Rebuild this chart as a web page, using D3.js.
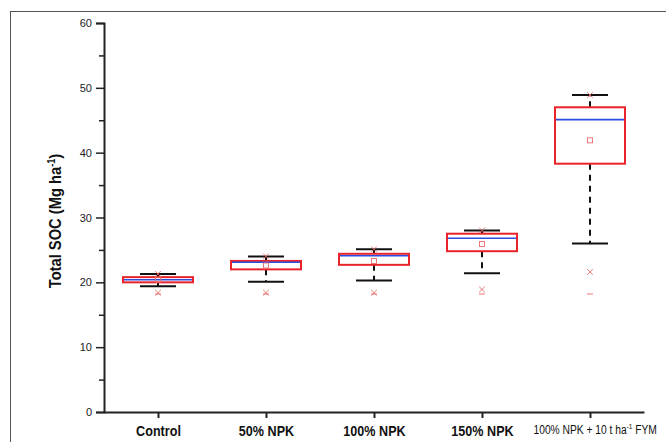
<!DOCTYPE html>
<html>
<head>
<meta charset="utf-8">
<script src="https://cdn.jsdelivr.net/npm/d3@7"></script>
<style>
  body { margin: 0; background: #fff; }
  svg { display: block; }
</style>
</head>
<body>
<div id="chart"></div>
<script>
// data
var categories = ["Control", "50% NPK", "100% NPK", "150% NPK", "100% NPK + 10 t ha-1 FYM"];
var q1      = [20.0, 22.0, 22.7, 24.8, 38.3];
var q3      = [20.8, 23.3, 24.4, 27.5, 47.0];
var median  = [20.4, 23.1, 24.1, 26.8, 45.1];
var mean    = [20.4, 22.6, 23.3, 25.9, 41.9];
var whiskLo = [19.4, 20.1, 20.3, 21.4, 26.0];
var whiskHi = [21.3, 24.0, 25.1, 28.0, 48.9];
var p1      = [18.4, 18.4, 18.4, 18.9, 21.6];
var p99     = [21.3, 24.0, 25.1, 28.0, 48.9];
var minV    = [18.2, 18.2, 18.2, 18.2, 18.2];
var yTicks  = [0, 10, 20, 30, 40, 50, 60];

var width = 666, height = 442;
var margin = {top: 23, right: 22, bottom: 30, left: 104};
var narrow = "'Liberation Sans', Arial, sans-serif";

var svg = d3.select("#chart").append("svg")
  .attr("width", width)
  .attr("height", height);

// outer frame
svg.append("rect")
  .attr("x", 10.5).attr("y", 11.5)
  .attr("width", 700).attr("height", 500)
  .attr("fill", "none")
  .attr("stroke", "#555")
  .attr("stroke-width", 1);

var y = d3.scaleLinear()
  .domain([0, 60])
  .range([height - margin.bottom, margin.top]);

var x = d3.scalePoint()
  .domain(categories)
  .range([margin.left, width - margin.right])
  .padding(0.5);

// minor ticks
var yMinor = d3.axisLeft(y).tickValues(d3.range(5, 60, 10)).tickSize(5).tickFormat("");
svg.append("g")
  .attr("transform", "translate(" + margin.left + ",0)")
  .call(yMinor)
  .call(function(g) { g.select(".domain").remove(); })
  .selectAll("line").attr("stroke", "#222").attr("stroke-width", 1.5);

var yAxis = d3.axisLeft(y).tickValues(yTicks).tickSize(8).tickPadding(4);
var gy = svg.append("g")
  .attr("transform", "translate(" + margin.left + ",0)")
  .call(yAxis);
gy.select(".domain").attr("stroke", "#222").attr("stroke-width", 2);
gy.selectAll(".tick line").attr("stroke", "#222").attr("stroke-width", 1.5);
gy.selectAll(".tick text")
  .attr("fill", "#222")
  .style("font-family", "'Liberation Sans', Arial, sans-serif")
  .style("font-size", "11px");

var xAxis = d3.axisBottom(x).tickSize(6).tickPadding(7).tickSizeOuter(0);
var gx = svg.append("g")
  .attr("transform", "translate(0," + y(0) + ")")
  .call(xAxis);
gx.select(".domain").attr("stroke", "#222").attr("stroke-width", 2);
gx.selectAll(".tick line").attr("stroke", "#222").attr("stroke-width", 2);
gx.selectAll(".tick text")
  .attr("fill", "#111")
  .style("font-family", narrow)
  .style("font-weight", "bold")
  .style("font-size", "15px")
  .attr("transform", "scale(0.84,1)")
  .each(function(d, i) {
    if (i === categories.length - 1) {
      var t = d3.select(this).text("")
        .attr("text-anchor", "start")
        .attr("transform", "scale(0.82,1)")
        .attr("x", -57 / 0.82)
        .style("font-size", "12.5px").style("font-weight", "normal");
      t.append("tspan").text("100% NPK + 10 t ha");
      t.append("tspan").attr("dy", "-5").style("font-size", "8px").text("-1");
      t.append("tspan").attr("dy", "5").text(" FYM");
    }
  });

// y label
svg.append("text")
  .attr("transform", "translate(61,221) rotate(-90) scale(0.92,1)")
  .attr("text-anchor", "middle")
  .style("font-family", narrow)
  .style("font-weight", "bold")
  .style("font-size", "16px")
  .attr("fill", "#111")
  .call(function(t) {
    t.append("tspan").text("Total SOC (Mg ha");
    t.append("tspan").attr("dy", "-6").style("font-size", "10px").text("-1");
    t.append("tspan").attr("dy", "6").text(")");
  });

var boxW = 70, capW = 36;
var boxes = svg.append("g").selectAll("g")
  .data(categories)
  .join("g")
  .attr("transform", function(d) { return "translate(" + x(d) + ",0)"; });

// whiskers (dashed from the box out)
boxes.append("line")
  .attr("x1", 0).attr("x2", 0)
  .attr("y1", function(d, i) { return y(q1[i]); })
  .attr("y2", function(d, i) { return y(whiskLo[i]); })
  .attr("stroke", "#111").attr("stroke-width", 2)
  .attr("stroke-dasharray", "6,5");
boxes.append("line")
  .attr("x1", 0).attr("x2", 0)
  .attr("y1", function(d, i) { return y(q3[i]); })
  .attr("y2", function(d, i) { return y(whiskHi[i]); })
  .attr("stroke", "#111").attr("stroke-width", 2)
  .attr("stroke-dasharray", "6,5");

// caps
[whiskLo, whiskHi].forEach(function(arr) {
  boxes.append("line")
    .attr("x1", -capW / 2).attr("x2", capW / 2)
    .attr("y1", function(d, i) { return y(arr[i]); })
    .attr("y2", function(d, i) { return y(arr[i]); })
    .attr("stroke", "#111").attr("stroke-width", 2);
});

// box
boxes.append("rect")
  .attr("x", -boxW / 2)
  .attr("width", boxW)
  .attr("y", function(d, i) { return y(q3[i]); })
  .attr("height", function(d, i) { return y(q1[i]) - y(q3[i]); })
  .attr("fill", "none")
  .attr("stroke", "#e8232a").attr("stroke-width", 2);

// median
boxes.append("line")
  .attr("x1", -boxW / 2 + 1).attr("x2", boxW / 2 - 1)
  .attr("y1", function(d, i) { return y(median[i]); })
  .attr("y2", function(d, i) { return y(median[i]); })
  .attr("stroke", "#2b4fe0").attr("stroke-width", 1.6);

// mean
boxes.append("rect")
  .attr("x", -2.5).attr("width", 5).attr("height", 5)
  .attr("y", function(d, i) { return y(mean[i]) - 2.5; })
  .attr("fill", "none")
  .attr("stroke", "#e86a6a").attr("stroke-width", 0.9);

// 1% / 99% crosses
[p1, p99].forEach(function(arr) {
  boxes.append("path")
    .attr("d", function(d, i) {
      var cy = y(arr[i]), s = 2.8;
      return "M" + (-s) + "," + (cy - s) + "L" + s + "," + (cy + s) +
             "M" + s + "," + (cy - s) + "L" + (-s) + "," + (cy + s);
    })
    .attr("stroke", "#e86a6a").attr("stroke-width", 0.9).attr("fill", "none");
});

// min dash
boxes.append("line")
  .attr("x1", -3).attr("x2", 3)
  .attr("y1", function(d, i) { return y(minV[i]); })
  .attr("y2", function(d, i) { return y(minV[i]); })
  .attr("stroke", "#e86a6a").attr("stroke-width", 0.9);
</script>
</body>
</html>
